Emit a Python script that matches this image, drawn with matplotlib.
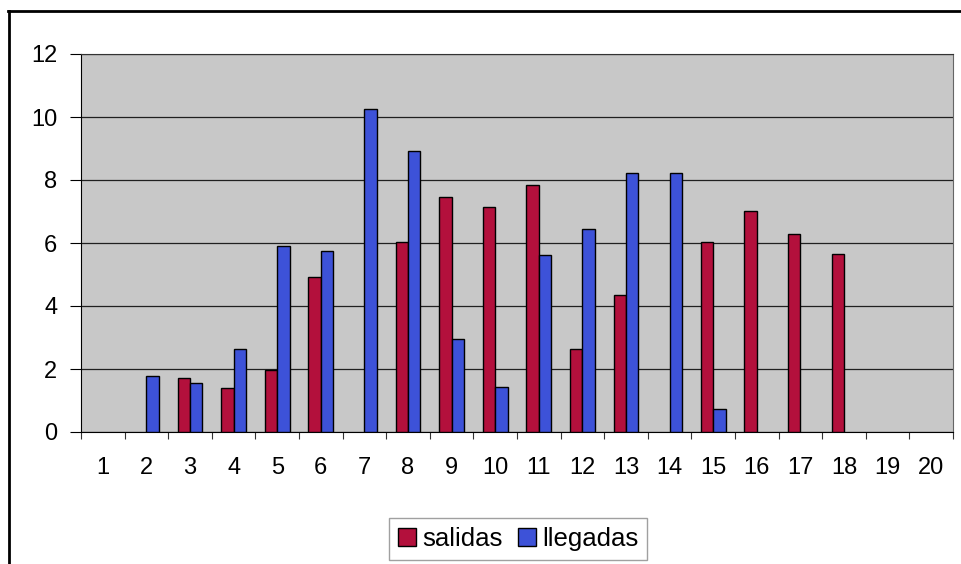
import numpy as np
import matplotlib.pyplot as plt
from matplotlib.lines import Line2D

# datos por intervalo
intervalos = list(range(1, 21))
salidas = [0, 0, 1.72, 1.40, 1.98, 4.92, 0, 6.02, 7.47, 7.15,
           7.84, 2.63, 4.34, 0, 6.02, 7.03, 6.27, 5.64, 0, 0]
llegadas = [0, 1.78, 1.54, 2.62, 5.92, 5.75, 10.25, 8.93, 2.96, 1.42,
            5.61, 6.45, 8.23, 8.23, 0.74, 0, 0, 0, 0, 0]
yticks = [0, 2, 4, 6, 8, 10, 12]

plt.rcParams['font.family'] = ['Liberation Sans', 'DejaVu Sans']

W, H = 961, 564
fig = plt.figure(figsize=(W / 100, H / 100), dpi=100)
fig.patch.set_facecolor('white')

# zona de trazado en pixeles
x0, x1, y0, y1 = 81, 953, 54, 432
ax = fig.add_axes([x0 / W, 1 - y1 / H, (x1 - x0) / W, (y1 - y0) / H])
ax.set_facecolor('#c8c8c8')

x = np.array(intervalos)
w = 1 / 3.5
s = np.array(salidas)
l = np.array(llegadas)
# los ceros no se dibujan (sin borde suelto sobre el eje)
ax.bar(x[s > 0] - w / 2, s[s > 0], w, color='#b3103c', edgecolor='black',
       linewidth=1.0, zorder=3)
ax.bar(x[l > 0] + w / 2, l[l > 0], w, color='#3d52d8', edgecolor='black',
       linewidth=1.0, zorder=3)

ax.set_xlim(0.5, 20.5)
ax.set_ylim(0, 12)
ax.set_yticks(yticks)
ax.set_yticklabels([str(v) for v in yticks], fontsize=17)
ax.yaxis.grid(True, color='#202020', linewidth=0.9, zorder=1)

ax.set_xticks(np.arange(0.5, 21, 1))
ax.set_xticklabels([])
ax.set_xticks(x, minor=True)
ax.set_xticklabels([str(i) for i in intervalos], minor=True, fontsize=17)
ax.tick_params(axis='x', which='major', length=5, width=0.8, color='#333333')
ax.tick_params(axis='x', which='minor', length=0, pad=18)
ax.tick_params(axis='y', length=8, width=0.8, pad=9)

ax.spines['left'].set_color('black')
ax.spines['bottom'].set_color('black')
ax.spines['top'].set_color('#333333')
ax.spines['right'].set_color('#666666')

handles = [plt.Rectangle((0, 0), 1, 1, facecolor='#b3103c', edgecolor='black'),
           plt.Rectangle((0, 0), 1, 1, facecolor='#3d52d8', edgecolor='black')]
leg = fig.legend(handles, ['salidas', 'llegadas'], loc='center',
                 bbox_to_anchor=(518 / W, 1 - 539 / H), ncol=2,
                 fontsize=18.5, frameon=True, fancybox=False, edgecolor='#888888',
                 handlelength=0.7, handleheight=0.7, handletextpad=0.25,
                 columnspacing=0.6, borderpad=0.35)
leg.get_frame().set_linewidth(1.0)

# marco exterior
fig.add_artist(Line2D([8.5 / W, 8.5 / W], [1 - 10.5 / H, 0], color='black',
                      linewidth=2, transform=fig.transFigure))
fig.add_artist(Line2D([8 / W, 1], [1 - 10.5 / H, 1 - 10.5 / H], color='black',
                      linewidth=2, transform=fig.transFigure))

fig.savefig('out.png', dpi=100)
